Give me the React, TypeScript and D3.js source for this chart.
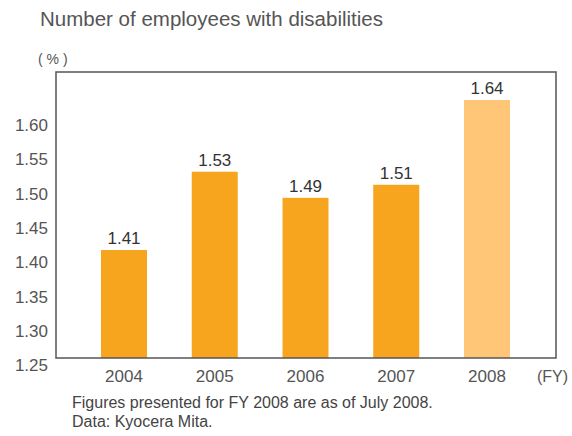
import React from "react";
import * as d3 from "d3";

const years = ["2004", "2005", "2006", "2007", "2008"];
const values = [1.41, 1.53, 1.49, 1.51, 1.64];
const valueLabels = ["1.41", "1.53", "1.49", "1.51", "1.64"];
const yTicks = [1.25, 1.3, 1.35, 1.4, 1.45, 1.5, 1.55, 1.6];
const colors = ["#F7A51F", "#F7A51F", "#F7A51F", "#F7A51F", "#FFC677"];

const W = 572;
const H = 436;
const frame = { left: 56, top: 72, right: 556, bottom: 358 };
const FONT = "'Liberation Sans', Arial, Helvetica, sans-serif";

export default function App() {
  const x = d3.scalePoint<string>().domain(years).range([124, 487]);
  const barW = 46;
  // bar value scale
  const y = d3.scaleLinear().domain([1.41, 1.64]).range([250, 100]);
  // tick label placement scale
  const yLab = d3.scaleLinear().domain([1.25, 1.6]).range([365, 125]);

  return (
    <svg width={W} height={H} style={{ position: "absolute", left: 0, top: 0 }}>
      <rect width={W} height={H} fill="#fff" />
      <text x={40} y={26} fontFamily={FONT} fontSize={20.5} fill="#555">
        Number of employees with disabilities
      </text>
      <text x={38} y={64} fontFamily={FONT} fontSize={14} fill="#555">
        ( % )
      </text>
      {yTicks.map((t) => (
        <text
          key={t}
          x={48}
          y={yLab(t)}
          dy="0.36em"
          textAnchor="end"
          fontFamily={FONT}
          fontSize={17}
          fill="#555"
        >
          {d3.format(".2f")(t)}
        </text>
      ))}
      {years.map((yr, i) => {
        const top = y(values[i]);
        const cx = x(yr) as number;
        return (
          <g key={yr}>
            <rect
              x={cx - barW / 2}
              y={top}
              width={barW}
              height={frame.bottom - top}
              fill={colors[i]}
            />
            <text
              x={cx}
              y={top - 6}
              textAnchor="middle"
              fontFamily={FONT}
              fontSize={17}
              fill="#333"
            >
              {valueLabels[i]}
            </text>
            <text
              x={cx}
              y={382}
              textAnchor="middle"
              fontFamily={FONT}
              fontSize={17}
              fill="#555"
            >
              {yr}
            </text>
          </g>
        );
      })}
      <rect
        x={frame.left}
        y={frame.top}
        width={frame.right - frame.left}
        height={frame.bottom - frame.top}
        fill="none"
        stroke="#555"
        strokeWidth={1.5}
      />
      <text x={537} y={382} fontFamily={FONT} fontSize={16} fill="#555">
        (FY)
      </text>
      <text x={72} y={408} fontFamily={FONT} fontSize={16} fill="#444">
        Figures presented for FY 2008 are as of July 2008.
      </text>
      <text x={72} y={427} fontFamily={FONT} fontSize={16} fill="#444">
        Data: Kyocera Mita.
      </text>
    </svg>
  );
}
